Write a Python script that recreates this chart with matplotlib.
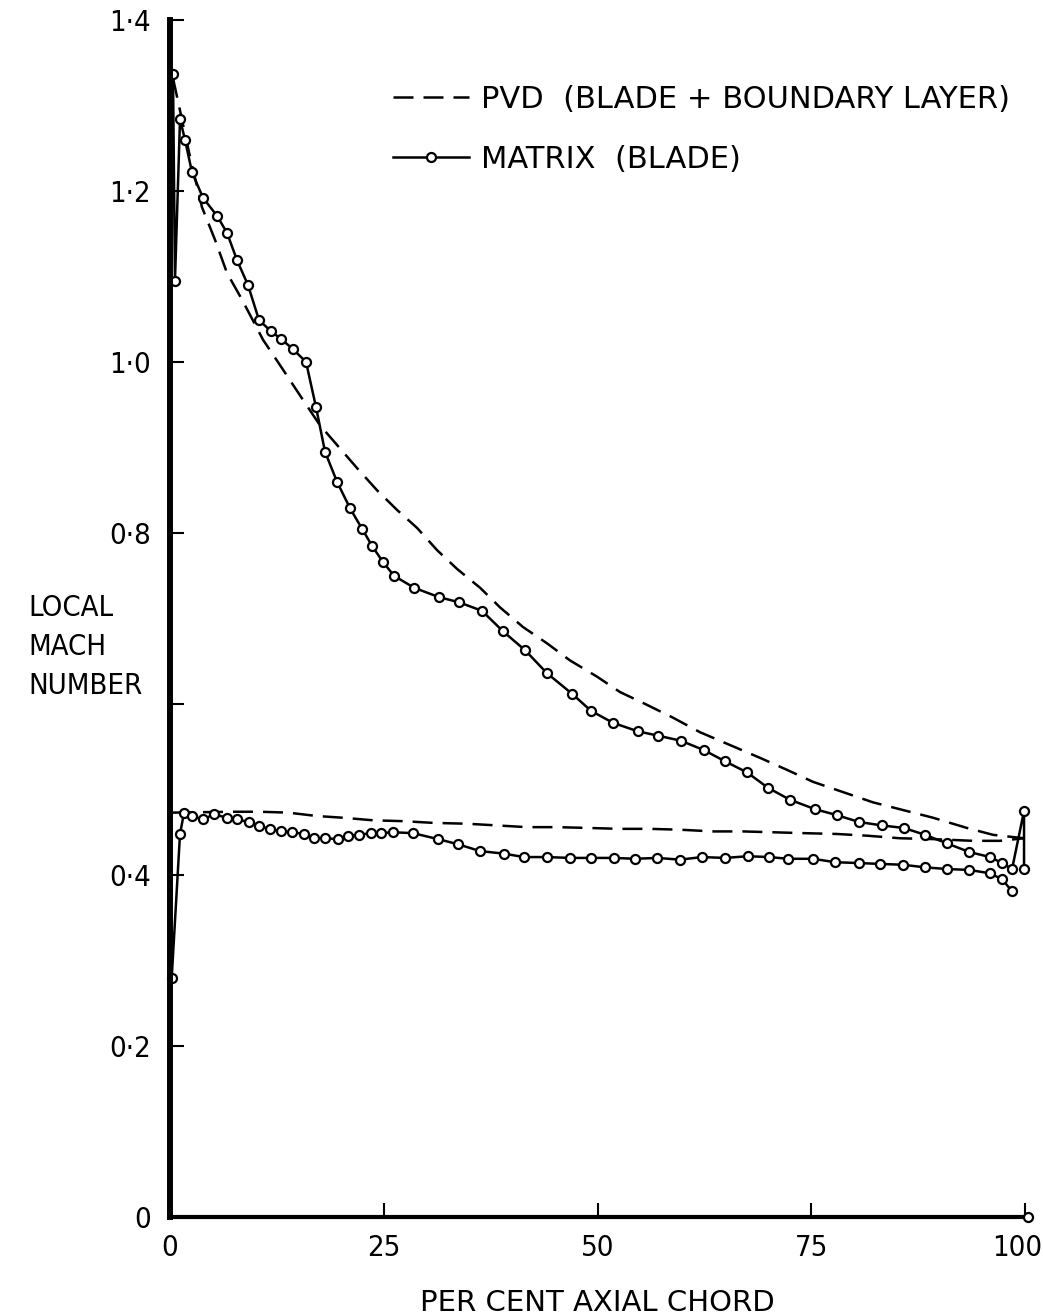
import numpy as np
import matplotlib.pyplot as plt
from matplotlib.transforms import ScaledTranslation

plt.rcParams['font.family'] = ['DejaVu Sans']
plt.rcParams['font.stretch'] = 'condensed'

# matrix (blade) - suction side
upper_x = [0.35, 0.58, 1.17, 1.75, 2.57, 3.86, 5.50, 6.67, 7.84, 9.12, 10.41, 11.81,
           12.98, 14.39, 15.91, 17.08, 18.13, 19.53, 21.05, 22.46, 23.63, 24.91, 26.20,
           28.54, 31.46, 33.80, 36.49, 38.95, 41.52, 44.09, 47.02, 49.24, 51.81, 54.74,
           57.08, 59.77, 62.46, 64.91, 67.49, 69.94, 72.51, 75.44, 78.01, 80.58, 83.27,
           85.85, 88.30, 90.88, 93.45, 95.91, 97.31, 98.48, 99.88, 99.88]
upper_y = [1.337, 1.095, 1.284, 1.260, 1.222, 1.192, 1.171, 1.151, 1.119, 1.090, 1.049,
           1.036, 1.027, 1.015, 1.000, 0.947, 0.895, 0.860, 0.829, 0.805, 0.785, 0.766,
           0.750, 0.736, 0.725, 0.719, 0.709, 0.685, 0.663, 0.636, 0.612, 0.592, 0.578,
           0.568, 0.563, 0.557, 0.546, 0.533, 0.520, 0.502, 0.488, 0.477, 0.470, 0.462,
           0.458, 0.455, 0.447, 0.437, 0.427, 0.421, 0.414, 0.407, 0.475, 0.407]

# matrix (blade) - pressure side
lower_x = [0.2, 1.17, 1.64, 2.57, 3.86, 5.15, 6.67, 7.84, 9.24, 10.41, 11.70, 12.98,
           14.27, 15.67, 16.84, 18.13, 19.65, 20.82, 22.11, 23.51, 24.68, 26.08, 28.42,
           31.35, 33.68, 36.26, 39.06, 41.40, 44.09, 46.78, 49.24, 51.93, 54.39, 56.96,
           59.65, 62.22, 64.91, 67.60, 70.06, 72.28, 75.20, 77.78, 80.58, 83.04, 85.73,
           88.30, 90.88, 93.45, 95.91, 97.31, 98.48]
lower_y = [0.28, 0.448, 0.473, 0.469, 0.465, 0.471, 0.467, 0.465, 0.462, 0.457, 0.454,
           0.451, 0.450, 0.448, 0.443, 0.443, 0.442, 0.446, 0.447, 0.449, 0.449, 0.450,
           0.449, 0.442, 0.436, 0.428, 0.425, 0.421, 0.421, 0.420, 0.420, 0.420, 0.419,
           0.420, 0.418, 0.421, 0.420, 0.422, 0.421, 0.419, 0.419, 0.415, 0.414, 0.413,
           0.412, 0.409, 0.407, 0.406, 0.402, 0.395, 0.381]

# trailing edge stagnation point
te_x = [100.35]
te_y = [0.0]

# PVD (blade + boundary layer)
pvd_up_x = [0.35, 2.34, 3.74, 5.26, 6.67, 8.42, 10.88, 13.22, 15.20, 17.54, 19.53, 21.87,
            24.21, 26.55, 28.89, 31.23, 33.57, 36.26, 38.60, 41.29, 44.09, 46.78, 49.94,
            52.63, 55.79, 58.83, 61.99, 65.50, 69.01, 72.16, 75.20, 78.71, 82.22, 85.73,
            89.24, 93.22, 96.26, 99.88]
pvd_up_y = [1.332, 1.240, 1.181, 1.143, 1.104, 1.073, 1.026, 0.991, 0.961, 0.926, 0.903,
            0.876, 0.850, 0.827, 0.806, 0.780, 0.758, 0.736, 0.713, 0.690, 0.671, 0.651,
            0.632, 0.614, 0.599, 0.584, 0.567, 0.552, 0.537, 0.523, 0.509, 0.497, 0.485,
            0.476, 0.467, 0.455, 0.447, 0.443]
pvd_lo_x = [0.35, 7.37, 10.53, 13.80, 17.19, 20.23, 23.74, 27.25, 30.76, 34.74, 38.25,
            41.75, 45.26, 49.12, 52.63, 56.14, 59.65, 63.51, 67.02, 70.53, 74.04, 78.01,
            81.52, 85.38, 89.24, 93.92, 97.08, 99.88]
pvd_lo_y = [0.473, 0.474, 0.474, 0.473, 0.469, 0.467, 0.464, 0.463, 0.461, 0.460, 0.458,
            0.456, 0.456, 0.455, 0.454, 0.454, 0.453, 0.451, 0.451, 0.450, 0.449, 0.448,
            0.446, 0.443, 0.442, 0.440, 0.440, 0.443]

yticks = [0, 0.2, 0.4, 0.6, 0.8, 1.0, 1.2, 1.4]
ytick_labels = ['0', '0·2', '0·4', '', '0·8', '1·0', '1·2', '1·4']
xticks = [0, 25, 50, 75, 100]

fig = plt.figure(figsize=(10.43, 13.16), dpi=100)
ax = fig.add_axes([0.163, 0.0752, 0.8198, 0.9096])

lw = 1.8
dash = (8, 4)
mk = dict(marker='o', ms=6.5, mfc='white', mec='black', mew=1.6)

ax.plot(pvd_up_x, pvd_up_y, color='black', lw=lw, dashes=dash,
        label='PVD  (BLADE + BOUNDARY LAYER)')
ax.plot(pvd_lo_x, pvd_lo_y, color='black', lw=lw, dashes=dash)
ax.plot(upper_x, upper_y, color='black', lw=lw, clip_on=False, **mk)
ax.plot(lower_x, lower_y, color='black', lw=lw, clip_on=False, **mk,
        label='MATRIX  (BLADE)')
ax.plot(te_x, te_y, ls='none', clip_on=False, zorder=5, **mk)

ax.set_xlim(0, 100)
ax.set_ylim(0, 1.4)
ax.spines['top'].set_visible(False)
ax.spines['right'].set_visible(False)
ax.spines['left'].set_linewidth(4.3)
ax.spines['bottom'].set_linewidth(3)

ax.set_yticks(yticks)
ax.set_yticklabels(ytick_labels)
ax.set_xticks(xticks)
ax.tick_params(axis='both', direction='in', length=10, width=1.5, labelsize=21)
ax.tick_params(axis='y', pad=14)
ax.tick_params(axis='x', pad=12)
# keep "100" inside the figure
last = ax.get_xticklabels()[-1]
last.set_transform(last.get_transform() + ScaledTranslation(-6 / 72, 0, fig.dpi_scale_trans))

ax.set_xlabel('PER CENT AXIAL CHORD', fontsize=21, fontstretch='normal', labelpad=20)
fig.text(0.027, 0.508, 'LOCAL\nMACH\nNUMBER', fontsize=21, ha='left', va='center',
         linespacing=1.5)

ax.legend(loc='upper left', bbox_to_anchor=(0.362, 0.947), bbox_transform=fig.transFigure,
          frameon=False, prop=dict(size=22, stretch='normal'), handlelength=2.5,
          handletextpad=0.4, labelspacing=1.0, borderpad=0, numpoints=1)

plt.savefig('out.png', dpi=100)
